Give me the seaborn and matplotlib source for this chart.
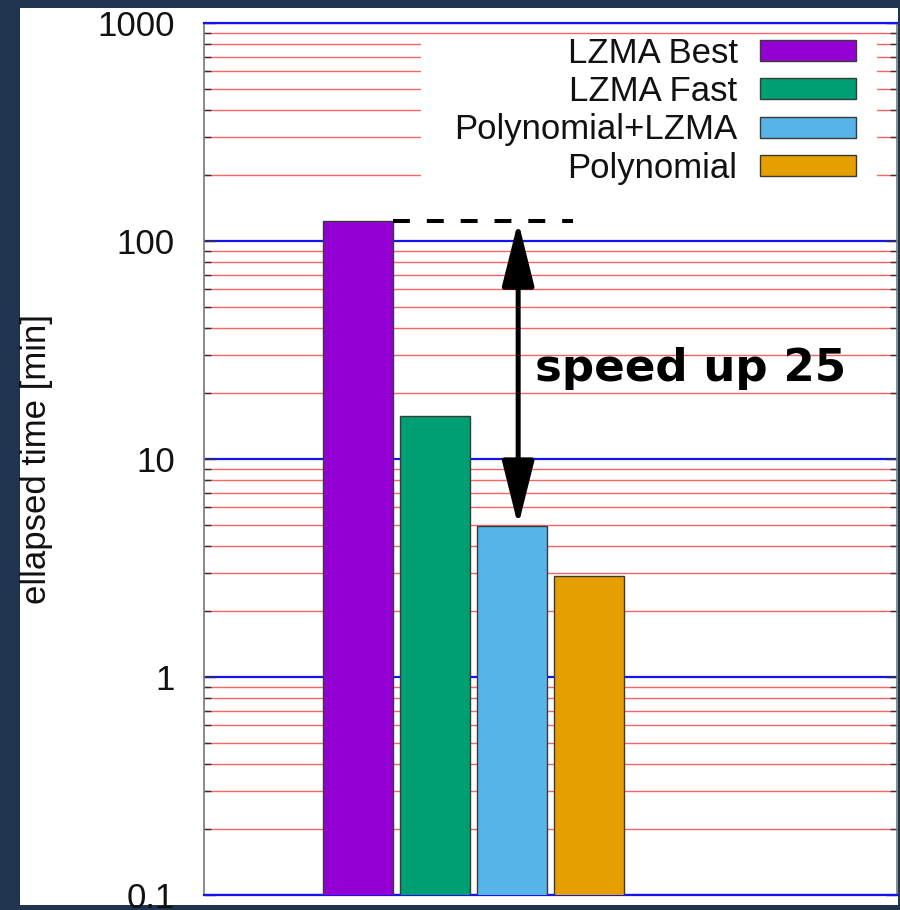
import matplotlib
matplotlib.use("Agg")
import matplotlib.pyplot as plt
from matplotlib.patches import Rectangle
from matplotlib.ticker import LogLocator, FixedLocator, NullFormatter
import seaborn as sns
import pandas as pd

# Elapsed time per compression method
methods = ["LZMA Best", "LZMA Fast", "Polynomial+LZMA", "Polynomial"]
minutes = [123.0, 15.8, 4.94, 2.9]
colors = ["#9400d3", "#009e73", "#56b4e9", "#e69f00"]
y_ticks = [0.1, 1, 10, 100, 1000]
y_tick_labels = ["0.1", "1", "10", "100", "1000"]
speedup_label = "speed up 25"

df = pd.DataFrame({"method": methods, "minutes": minutes})

sns.set_theme(style="white")
plt.rcParams["font.family"] = ["Liberation Sans", "DejaVu Sans"]

W, H = 900, 910
fig = plt.figure(figsize=(W / 100, H / 100), dpi=100, facecolor="#20344f")
fig.patches.append(Rectangle((20 / W, 5 / H), 878 / W, 897 / H,
                             transform=fig.transFigure, facecolor="white",
                             edgecolor="none", zorder=-10))

ax = fig.add_axes([204 / W, 15 / H, 693 / W, 872 / H])
ax.set_facecolor("white")
ax.set_yscale("log")

sns.barplot(data=df, x="method", y="minutes", hue="method", order=methods,
            hue_order=methods, palette=colors, dodge=False, width=0.9,
            edgecolor="#3a3a3a", linewidth=1.0, saturation=1, ax=ax,
            legend=True, zorder=3)

ax.set_xlim(-2, 7)
ax.set_ylim(0.1, 1000)
ax.set_xticks([])
ax.set_xlabel("")

# Decade grid in blue, intermediate values in red
ax.yaxis.set_major_locator(FixedLocator(y_ticks))
ax.set_yticklabels(y_tick_labels)
ax.yaxis.set_minor_locator(LogLocator(base=10, subs=range(2, 10)))
ax.yaxis.set_minor_formatter(NullFormatter())
ax.set_axisbelow(True)
ax.grid(True, which="major", axis="y", color="#1414f0", lw=1.6)
ax.grid(True, which="minor", axis="y", color="#ff6262", lw=1.0)
ax.tick_params(axis="y", which="major", direction="in", length=8, width=1,
               color="#333333", labelsize=25, pad=21, left=True, right=True,
               labelcolor="#111111")
ax.tick_params(axis="y", which="minor", direction="in", length=5, width=1,
               color="#333333", left=True, right=True)

for side in ("left", "right"):
    ax.spines[side].set_color("#777777")
    ax.spines[side].set_linewidth(1.2)
for side in ("top", "bottom"):
    ax.spines[side].set_color("#1414f0")
    ax.spines[side].set_linewidth(1.6)

ax.set_ylabel("ellapsed time [min]", fontsize=25, color="#111111")
ax.yaxis.set_label_coords((53 - 204) / 693, 0.5)

# Opaque key area
ax.add_patch(Rectangle((0.313, 0.803), 0.971 - 0.313, 0.986 - 0.803,
                       transform=ax.transAxes, facecolor="white",
                       edgecolor="none", zorder=2))
handles, labels = ax.get_legend_handles_labels()
if ax.get_legend() is not None:
    ax.get_legend().remove()
leg = ax.legend(handles, labels, loc="upper right",
                bbox_to_anchor=(0.9408, 0.984), bbox_transform=ax.transAxes,
                frameon=False, markerfirst=False, fontsize=25,
                handlelength=2.75, handleheight=0.55, handletextpad=0.66,
                labelspacing=0.15, borderpad=0, borderaxespad=0)
leg.set_zorder(5)
for t in leg.get_texts():
    t.set_color("#111111")

# Reference level of the slowest method and the speed-up arrow
top = minutes[0]
ax.plot([0.45, 2.79], [top, top], color="black", lw=2.9,
        dashes=(4.2, 4.2), zorder=4, solid_capstyle="butt",
        dash_capstyle="butt")
ax.annotate("", xy=(2.08, minutes[2]), xytext=(2.08, top),
            arrowprops=dict(arrowstyle="<|-|>,head_length=40,head_width=10",
                            color="black", lw=3.6, shrinkA=0, shrinkB=0,
                            mutation_scale=1),
            zorder=4)
ax.text(2.30, 22.8, speedup_label, fontsize=32.5, fontweight="bold",
        family=["DejaVu Sans"], color="black", va="baseline", ha="left",
        zorder=4)

fig.savefig("out.png", dpi=100, facecolor=fig.get_facecolor())
